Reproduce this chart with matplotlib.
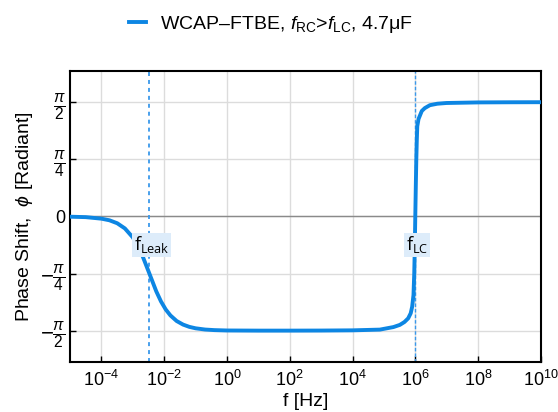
import numpy as np
import matplotlib
matplotlib.use('Agg')
import matplotlib.pyplot as plt

plt.rcParams['font.family'] = ['Liberation Sans', 'DejaVu Sans']
plt.rcParams['mathtext.fontset'] = 'custom'
plt.rcParams['mathtext.rm'] = 'Liberation Sans'
plt.rcParams['mathtext.it'] = 'Liberation Sans:italic'
plt.rcParams['mathtext.bf'] = 'Liberation Sans:bold'

# phase of the WCAP-FTBE 4.7uF capacitor model (frequency in Hz, phase in rad)
freq = [1e-5, 3.2e-5, 1e-4, 1.8e-4, 3.2e-4, 5.6e-4, 1e-3, 1.4e-3, 2e-3,
        2.8e-3, 4e-3, 5.6e-3, 7.9e-3, 1.12e-2, 1.58e-2, 2.5e-2, 4e-2,
        6.3e-2, 1e-1, 2e-1, 4e-1, 1e0, 1e1, 1e2, 1e3, 1e4, 7.4e4, 2e5,
        3.2e5, 4.5e5, 5.9e5, 7.1e5, 7.9e5, 8.7e5, 9.2e5, 9.55e5, 9.93e5,
        1.035e6, 1.07e6, 1.11e6, 1.15e6, 1.26e6, 1.6e6, 2.0e6, 2.9e6,
        5.0e6, 9.8e6, 1e8, 1e9, 1e10]
phase = [-0.003, -0.009, -0.03, -0.052, -0.093, -0.164, -0.287, -0.395,
         -0.532, -0.694, -0.866, -1.029, -1.167, -1.278, -1.36, -1.437,
         -1.486, -1.517, -1.537, -1.554, -1.562, -1.567, -1.569, -1.569,
         -1.568, -1.565, -1.555, -1.52, -1.49, -1.45, -1.40, -1.33, -1.24,
         -1.08, -0.785, -0.45, 0.0, 0.45, 0.78, 1.05, 1.24, 1.34, 1.45,
         1.49, 1.53, 1.55, 1.56, 1.568, 1.57, 1.571]

f_leak = 3.4e-3
f_lc = 1.0e6

y_ticks = [-np.pi / 2, -np.pi / 4, 0, np.pi / 4, np.pi / 2]
y_labels = [r'$-\frac{\pi}{2}$', r'$-\frac{\pi}{4}$', '0',
            r'$\frac{\pi}{4}$', r'$\frac{\pi}{2}$']
x_ticks = [1e-4, 1e-2, 1e0, 1e2, 1e4, 1e6, 1e8, 1e10]

blue = '#0d86e3'
dash_blue = '#3a98ea'

fig = plt.figure(figsize=(5.58, 4.12), dpi=100)
ax = fig.add_axes([0.1254, 0.1214, 0.8441, 0.7063])

ax.axhline(0, color='#8a8a8a', lw=1.0, zorder=1)
ax.axvline(f_leak, color=dash_blue, lw=1.3, ls=(0, (2.2, 2.2)), zorder=2)
ax.axvline(f_lc, color=dash_blue, lw=1.0, ls=(0, (2.5, 1.5)), zorder=2)

line, = ax.semilogx(freq, phase, color=blue, lw=2.8, zorder=3,
                    label=r'WCAP–FTBE, $f_{\mathrm{RC}}$>$f_{\mathrm{LC}}$, 4.7μF')

box = dict(boxstyle='square,pad=0.1', facecolor='#ddecfa', edgecolor='none')
ax.text(10 ** -2.4, -0.39, r'f$_{\mathregular{Leak}}$', family='Open Sans',
        fontsize=13, ha='center', va='center', bbox=box, zorder=4)
ax.text(10 ** 6.05, -0.39, r'f$_{\mathregular{LC}}$', family='Open Sans',
        fontsize=13, ha='center', va='center', bbox=box, zorder=4)

ax.set_xlim(1e-5, 1e10)
ax.set_ylim(-2.0, 2.0)
ax.set_xticks(x_ticks)
ax.xaxis.set_minor_locator(matplotlib.ticker.NullLocator())
ax.set_yticks(y_ticks)
ax.set_yticklabels(y_labels)
ax.tick_params(direction='in', length=4, width=1, labelsize=13)
ax.tick_params(axis='x', pad=6)
ax.tick_params(axis='y', pad=3)
for lab in ax.get_yticklabels():
    if lab.get_text() != '0':
        lab.set_fontsize(16)
ax.grid(True, color='#dcdcdc', lw=1.0, zorder=0)
ax.set_axisbelow(True)
for sp in ax.spines.values():
    sp.set_linewidth(1.5)

ax.set_xlabel('f [Hz]', fontsize=14, labelpad=2)
ax.set_ylabel(r'Phase Shift,  $\phi$ [Radiant]', fontsize=14, labelpad=4)

fig.legend(handles=[line], loc='center', bbox_to_anchor=(0.485, 0.94),
           frameon=False, fontsize=14, handlelength=0.9, handletextpad=0.7)

fig.savefig('out.png', dpi=100)
plt.close(fig)
